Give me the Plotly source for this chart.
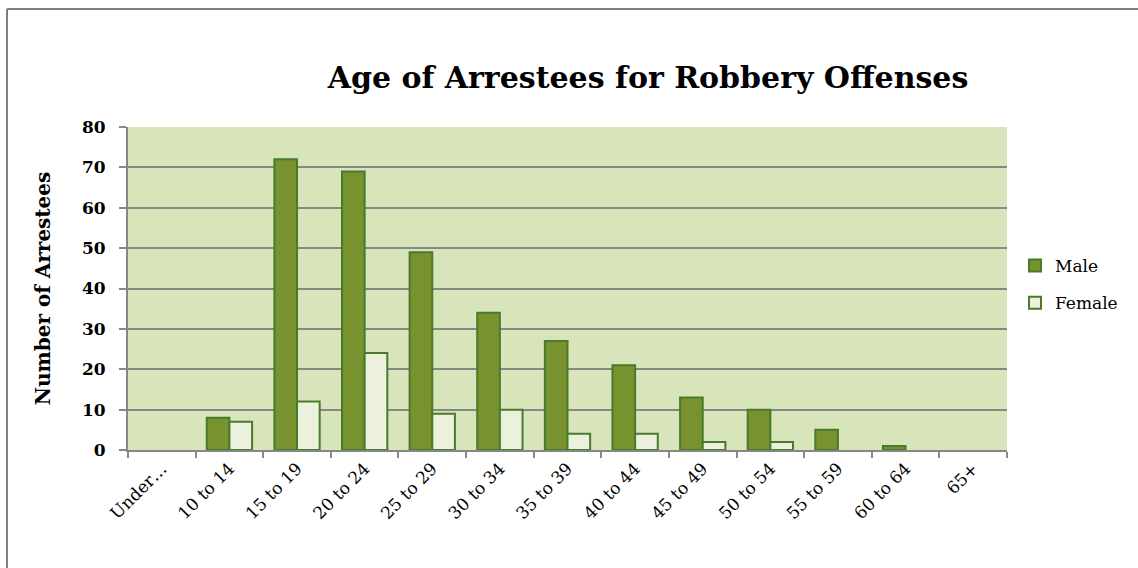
import plotly.graph_objects as go

categories = ["Under…", "10 to 14", "15 to 19", "20 to 24", "25 to 29", "30 to 34",
              "35 to 39", "40 to 44", "45 to 49", "50 to 54", "55 to 59", "60 to 64", "65+"]
male = [0, 8, 72, 69, 49, 34, 27, 21, 13, 10, 5, 1, 0]
female = [0, 7, 12, 24, 9, 10, 4, 4, 2, 2, 0, 0, 0]
y_ticks = [0, 10, 20, 30, 40, 50, 60, 70, 80]

FONT = "DejaVu Serif"
GRID = "#878787"
EDGE = "#4A7A2C"
MALE_C = "#77922F"
FEMALE_C = "#EBF1DC"


def edge_widths(values):
    return [2 if v > 0 else 0 for v in values]


fig = go.Figure()
fig.add_trace(go.Bar(x=categories, y=male, name="Male", legendgroup="m", showlegend=False,
                     offsetgroup="m",
                     marker=dict(color=MALE_C,
                                 line=dict(color=EDGE, width=edge_widths(male)))))
fig.add_trace(go.Bar(x=categories, y=female, name="Female", legendgroup="f", showlegend=False,
                     offsetgroup="f",
                     marker=dict(color=FEMALE_C,
                                 line=dict(color=EDGE, width=edge_widths(female)))))
# legend entries (keep bordered swatches)
fig.add_trace(go.Bar(x=[None], y=[None], name="Male", legendgroup="m", showlegend=True,
                     offsetgroup="m",
                     marker=dict(color=MALE_C, line=dict(color=EDGE, width=2))))
fig.add_trace(go.Bar(x=[None], y=[None], name="Female", legendgroup="f", showlegend=True,
                     offsetgroup="f",
                     marker=dict(color=FEMALE_C, line=dict(color=EDGE, width=2))))

L, R, T, B = 128, 131, 127, 118
W, H = 1138, 568
pw, ph = W - L - R, H - T - B

def px_x(px):
    return (px - L) / pw

def px_y(py):
    return (H - B - py) / ph

fig.update_layout(
    width=W, height=H,
    margin=dict(l=L, r=R, t=T, b=B, autoexpand=False),
    paper_bgcolor="white",
    plot_bgcolor="#D8E4BA",
    barmode="group",
    bargap=0.33, bargroupgap=0,
    font=dict(family=FONT, color="black"),
    title=dict(text="<b>Age of Arrestees for Robbery Offenses</b>",
               font=dict(size=30, family=FONT, color="black"),
               x=px_x(648), xref="paper", xanchor="center",
               y=1 - 77 / H, yanchor="middle"),
    legend=dict(x=px_x(1015), y=px_y(248), xanchor="left", yanchor="top",
                font=dict(size=17, family=FONT), tracegroupgap=12,
                bgcolor="rgba(0,0,0,0)", itemwidth=30),
    showlegend=True,
    xaxis=dict(type="category", categoryorder="array", categoryarray=categories,
               range=[-0.5, len(categories) - 0.5],
               tickson="boundaries", ticks="outside", ticklen=6,
               tickcolor=GRID, tickwidth=2, showline=True, linecolor=GRID, linewidth=2,
               tickangle=-45, tickfont=dict(size=17, family=FONT), showgrid=False),
    yaxis=dict(range=[0, 80], tickvals=y_ticks, ticks="outside", ticklen=7,
               tickcolor=GRID, tickwidth=2, showline=True, linecolor=GRID, linewidth=2,
               showgrid=True, gridcolor=GRID, gridwidth=2, zeroline=False,
               tickfont=dict(size=17, family=FONT, weight="bold"), ticklabelstandoff=10,
               title=dict(text="<b>Number of Arrestees</b>",
                          font=dict(size=20, family=FONT), standoff=26)),
    shapes=[
        dict(type="line", xref="paper", yref="paper", x0=px_x(7), x1=px_x(1140),
             y0=px_y(9), y1=px_y(9), line=dict(color="#7F7F7F", width=2)),
        dict(type="line", xref="paper", yref="paper", x0=px_x(7), x1=px_x(7),
             y0=px_y(9), y1=px_y(570), line=dict(color="#7F7F7F", width=2)),
    ],
)

fig.write_html("out.html", config={"displayModeBar": False},
               post_script="document.body.style.margin='0';")
